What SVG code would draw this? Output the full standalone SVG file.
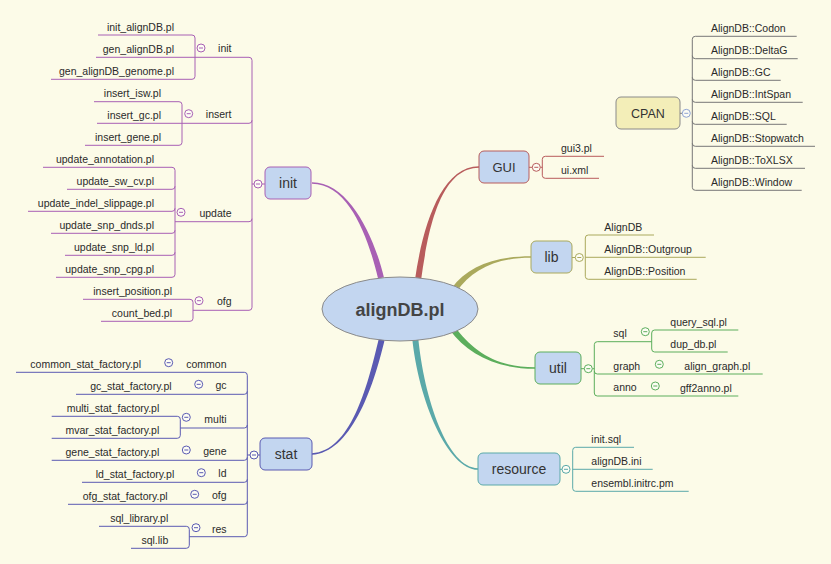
<svg xmlns="http://www.w3.org/2000/svg" width="831" height="564" viewBox="0 0 831 564">
<style>
.t{font-family:"Liberation Sans",Arial,sans-serif;font-size:10.5px;fill:#2a2a2a}
.e{text-anchor:end}
.nl{font-family:"Liberation Sans",Arial,sans-serif;font-size:14px;fill:#333;text-anchor:middle}
.ln{fill:none;stroke-width:1}
.pu{stroke:#a860b4}.rd{stroke:#b85c5c}.ol{stroke:#aaa95c}.gr{stroke:#5cae5c}.te{stroke:#5aa9a9}.in{stroke:#5a5ab2}.gy{stroke:#777}
.box{fill:#c3d6f0;stroke-width:1}
.b{fill:#fdfdf4;stroke-width:1}
</style>
<defs>
<g id="btn"><circle class="b" r="4"/><path d="M-2,0H2"/></g>
</defs>
<rect width="831" height="564" fill="#fcfbe8"/>
<g id="connectors">
<path fill="#a860b4" d="M312,183.75 C350,183.75 369.1,240.7 378.1,278.7 L383.9,277.3 C374.9,239.3 350,182.25 312,182.25 Z"/>
<path fill="#b85c5c" d="M479,166.25 C440,166.25 422,229.6 415,279.6 L421,280.4 C428,230.4 440,167.75 479,167.75 Z"/>
<path fill="#aaa95c" d="M531,256.25 C495,256.25 467.6,266.2 451.6,288.2 L456.4,291.8 C472.4,269.8 495,257.75 531,257.75 Z"/>
<path fill="#5cae5c" d="M535,367.25 C495,367.25 472.4,350.2 454.4,326.2 L449.6,329.8 C467.6,353.8 495,368.75 535,368.75 Z"/>
<path fill="#5aa9a9" d="M478,468.25 C448,468.25 424,399.85 418,335.85 L412,336.15 C418,400.15 448,469.75 478,469.75 Z"/>
<path fill="#5a5ab2" d="M312,454.75 C350,452.75 372.9,390.7 384.9,338.7 L379.1,337.3 C367.1,389.3 350,451.25 312,453.25 Z"/>
<g class="ln pu">
<path d="M96,57.3 H249 Q252,57.3 252,60.3 V307.3 Q252,310.3 249,310.3 H193"/>
<path d="M97,123.3 H249 Q252,123.3 252,120.3"/>
<path d="M175,221.7 H249 Q252,221.7 252,218.7"/>
<path d="M98,35 H192 Q195,35 195,38 V76.3 Q195,79.3 192,79.3 H51"/>
<path d="M94,101.7 H179 Q182,101.7 182,104.7 V142.3 Q182,145.3 179,145.3 H85"/>
<path d="M43,167.3 H172 Q175,167.3 175,170.3 V274.3 Q175,277.3 172,277.3 H56"/>
<path d="M67,189.3 H172 Q175,189.3 175,186.3 M28,211.3 H172 Q175,211.3 175,208.3 M51,233.3 H172 Q175,233.3 175,230.3 M65,255.3 H172 Q175,255.3 175,252.3"/>
<path d="M83,299.3 H190 Q193,299.3 193,302.3 V318.3 Q193,321.3 190,321.3 H101"/>
<path d="M252,184 H254 M262,184 H265"/>
</g>
<g class="ln in">
<path d="M16,372.3 H244.3 Q247.3,372.3 247.3,375.3 V533.7 Q247.3,536.7 244.3,536.7 H189.3"/>
<path d="M76,394.3 H244.3 Q247.3,394.3 247.3,391.3 M180.3,428 H244.3 Q247.3,428 247.3,425 M51.7,460.3 H244.3 Q247.3,460.3 247.3,457.3 M82,482.3 H244.3 Q247.3,482.3 247.3,479.3 M68,504.3 H244.3 Q247.3,504.3 247.3,501.3"/>
<path d="M51.7,416.3 H177.3 Q180.3,416.3 180.3,419.3 V435.3 Q180.3,438.3 177.3,438.3 H51.7"/>
<path d="M99,526.3 H186.3 Q189.3,526.3 189.3,529.3 V545.3 Q189.3,548.3 186.3,548.3 H131"/>
<path d="M247.3,455 H250 M258,455 H260"/>
</g>
<g class="ln rd">
<path d="M604,156.3 H545.3 Q542.3,156.3 542.3,159.3 V175.3 Q542.3,178.3 545.3,178.3 H599"/>
<path d="M529,167.3 H532.3 M540.3,167.3 H542.3"/>
</g>
<g class="ln ol">
<path d="M654,235 H588.3 Q585.3,235 585.3,238 V276.3 Q585.3,279.3 588.3,279.3 H696.7"/>
<path d="M585.3,257.3 H705.7 M572,257.5 H575.3"/>
</g>
<g class="ln gr">
<path d="M651.7,341.7 H597.3 Q594.3,341.7 594.3,344.7 V393 Q594.3,396 597.3,396 H738.3"/>
<path d="M594.3,371 Q594.3,374 597.3,374 H762.7"/>
<path d="M738.3,330 H654.7 Q651.7,330 651.7,333 V349 Q651.7,352 654.7,352 H727.7"/>
<path d="M581,368.7 H584.3 M592.3,368.7 H594.3"/>
</g>
<g class="ln te">
<path d="M634,447.3 H575.7 Q572.7,447.3 572.7,450.3 V488.3 Q572.7,491.3 575.7,491.3 H688.7"/>
<path d="M572.7,469.3 H652.7 M560,469.3 H562"/>
</g>
<g class="ln gy">
<path d="M796.7,36.3 H695.3 Q692.3,36.3 692.3,39.3 V187.3 Q692.3,190.3 695.3,190.3 H801.7"/>
<path d="M692.3,55.7 Q692.3,58.7 695.3,58.7 H797.7 M692.3,77.3 Q692.3,80.3 695.3,80.3 H780.7 M692.3,99.3 Q692.3,102.3 695.3,102.3 H802.7 M692.3,121.3 Q692.3,124.3 695.3,124.3 H786.7 M692.3,143.3 Q692.3,146.3 695.3,146.3 H815 M692.3,165.3 Q692.3,168.3 695.3,168.3 H805"/>
<path d="M680,113.3 H682.3"/>
</g>
</g>
<g id="node-center">
<ellipse cx="400" cy="309" rx="78" ry="32" fill="#c3d6f0" stroke="#8a8a8a" stroke-width="1"/>
<text x="400" y="316" text-anchor="middle" font-family="Liberation Sans,Arial,sans-serif" font-weight="bold" font-size="18" fill="#444">alignDB.pl</text>
</g>
<g id="node-init"><rect class="box pu" x="265" y="167" width="46" height="32" rx="5"/><text class="nl" x="288" y="188">init</text><use href="#btn" x="258" y="184" class="pu"/></g>
<g id="node-gui"><rect class="box rd" x="479" y="151" width="50" height="32" rx="5"/><text class="nl" x="504" y="172" style="font-size:13px">GUI</text><use href="#btn" x="536.3" y="167.3" class="rd"/></g>
<g id="node-lib"><rect class="box ol" x="531" y="241" width="41" height="32" rx="5"/><text class="nl" x="551.5" y="262">lib</text><use href="#btn" x="579.3" y="257.5" class="ol"/></g>
<g id="node-util"><rect class="box gr" x="535" y="352" width="46" height="32" rx="5"/><text class="nl" x="558" y="373">util</text><use href="#btn" x="588.3" y="368.7" class="gr"/></g>
<g id="node-resource"><rect class="box te" x="478" y="453" width="82" height="32" rx="5"/><text class="nl" x="519" y="474">resource</text><use href="#btn" x="566" y="469.3" class="te"/></g>
<g id="node-stat"><rect class="box in" x="260" y="438" width="52" height="32" rx="5"/><text class="nl" x="286" y="459">stat</text><use href="#btn" x="254" y="455" class="in"/></g>
<g id="node-cpan"><rect x="616" y="97" width="64" height="32" rx="5" fill="#f3eeb8" stroke="#8a8a8a" stroke-width="1"/><text class="nl" x="648" y="118" style="font-size:12.5px">CPAN</text><use href="#btn" x="686.3" y="113.3" style="stroke:#8fa3d3"/></g>

<g id="init-init"><text class="t e" x="231.5" y="52.3">init</text><use href="#btn" x="201" y="48" class="pu"/></g>
<g id="init-insert"><text class="t e" x="231.5" y="118">insert</text><use href="#btn" x="188.7" y="113.7" class="pu"/></g>
<g id="init-update"><text class="t e" x="231.5" y="217.3">update</text><use href="#btn" x="181" y="212.3" class="pu"/></g>
<g id="init-ofg"><text class="t e" x="231.5" y="305">ofg</text><use href="#btn" x="199" y="300.7" class="pu"/></g>
<g id="l-init_alignDB"><text class="t e" x="174" y="30.5">init_alignDB.pl</text></g>
<g id="l-gen_alignDB"><text class="t e" x="174" y="52.8">gen_alignDB.pl</text></g>
<g id="l-gen_alignDB_genome"><text class="t e" x="174" y="74.8">gen_alignDB_genome.pl</text></g>
<g id="l-insert_isw"><text class="t e" x="161" y="97.2">insert_isw.pl</text></g>
<g id="l-insert_gc"><text class="t e" x="161" y="118.8">insert_gc.pl</text></g>
<g id="l-insert_gene"><text class="t e" x="161" y="140.8">insert_gene.pl</text></g>
<g id="l-update_annotation"><text class="t e" x="154" y="162.8">update_annotation.pl</text></g>
<g id="l-update_sw_cv"><text class="t e" x="154" y="184.8">update_sw_cv.pl</text></g>
<g id="l-update_indel_slippage"><text class="t e" x="154" y="206.8">update_indel_slippage.pl</text></g>
<g id="l-update_snp_dnds"><text class="t e" x="154" y="228.8">update_snp_dnds.pl</text></g>
<g id="l-update_snp_ld"><text class="t e" x="154" y="250.8">update_snp_ld.pl</text></g>
<g id="l-update_snp_cpg"><text class="t e" x="154" y="272.8">update_snp_cpg.pl</text></g>
<g id="l-insert_position"><text class="t e" x="172" y="294.8">insert_position.pl</text></g>
<g id="l-count_bed"><text class="t e" x="172" y="316.8">count_bed.pl</text></g>

<g id="stat-common"><text class="t e" x="226.5" y="367.5">common</text><use href="#btn" x="168.7" y="362.7" class="in"/></g>
<g id="stat-gc"><text class="t e" x="226.5" y="389">gc</text><use href="#btn" x="198.7" y="384.3" class="in"/></g>
<g id="stat-multi"><text class="t e" x="226.5" y="422.5">multi</text><use href="#btn" x="186.3" y="417.3" class="in"/></g>
<g id="stat-gene"><text class="t e" x="226.5" y="455.3">gene</text><use href="#btn" x="186.3" y="450" class="in"/></g>
<g id="stat-ld"><text class="t e" x="226.5" y="477.3">ld</text><use href="#btn" x="201.3" y="472.7" class="in"/></g>
<g id="stat-ofg"><text class="t e" x="226.5" y="499.3">ofg</text><use href="#btn" x="194.7" y="494.3" class="in"/></g>
<g id="stat-res"><text class="t e" x="226.5" y="532.5">res</text><use href="#btn" x="196" y="527.7" class="in"/></g>
<g id="l-common_stat_factory"><text class="t e" x="141" y="367.8">common_stat_factory.pl</text></g>
<g id="l-gc_stat_factory"><text class="t e" x="171.7" y="389.8">gc_stat_factory.pl</text></g>
<g id="l-multi_stat_factory"><text class="t e" x="159.3" y="411.8">multi_stat_factory.pl</text></g>
<g id="l-mvar_stat_factory"><text class="t e" x="159.3" y="433.8">mvar_stat_factory.pl</text></g>
<g id="l-gene_stat_factory"><text class="t e" x="159.3" y="455.8">gene_stat_factory.pl</text></g>
<g id="l-ld_stat_factory"><text class="t e" x="174.3" y="477.8">ld_stat_factory.pl</text></g>
<g id="l-ofg_stat_factory"><text class="t e" x="167.7" y="499.8">ofg_stat_factory.pl</text></g>
<g id="l-sql_library"><text class="t e" x="168.3" y="521.8">sql_library.pl</text></g>
<g id="l-sql_lib"><text class="t e" x="168.3" y="543.8">sql.lib</text></g>

<g id="l-gui3"><text class="t" x="561" y="151.8">gui3.pl</text></g>
<g id="l-ui_xml"><text class="t" x="561" y="173.8">ui.xml</text></g>
<g id="l-AlignDB"><text class="t" x="604.3" y="230.5">AlignDB</text></g>
<g id="l-Outgroup"><text class="t" x="604.3" y="252.8">AlignDB::Outgroup</text></g>
<g id="l-Position"><text class="t" x="604.3" y="274.8">AlignDB::Position</text></g>
<g id="util-sql"><text class="t" x="613.3" y="337">sql</text><use href="#btn" x="645.3" y="331.7" class="gr"/></g>
<g id="util-graph"><text class="t" x="613.3" y="369.5">graph</text><use href="#btn" x="659.3" y="364.3" class="gr"/></g>
<g id="util-anno"><text class="t" x="613.3" y="391.3">anno</text><use href="#btn" x="655.3" y="386" class="gr"/></g>
<g id="l-query_sql"><text class="t" x="670.3" y="325.5">query_sql.pl</text></g>
<g id="l-dup_db"><text class="t" x="670.3" y="347.5">dup_db.pl</text></g>
<g id="l-align_graph"><text class="t" x="684.3" y="369.5">align_graph.pl</text></g>
<g id="l-gff2anno"><text class="t" x="680" y="391.5">gff2anno.pl</text></g>
<g id="l-init_sql"><text class="t" x="591.3" y="442.8">init.sql</text></g>
<g id="l-alignDB_ini"><text class="t" x="591.3" y="464.8">alignDB.ini</text></g>
<g id="l-ensembl"><text class="t" x="591.3" y="486.8">ensembl.initrc.pm</text></g>
<g id="l-Codon"><text class="t" x="711" y="31.8">AlignDB::Codon</text></g>
<g id="l-DeltaG"><text class="t" x="711" y="54.2">AlignDB::DeltaG</text></g>
<g id="l-GC"><text class="t" x="711" y="75.8">AlignDB::GC</text></g>
<g id="l-IntSpan"><text class="t" x="711" y="97.8">AlignDB::IntSpan</text></g>
<g id="l-SQL"><text class="t" x="711" y="119.8">AlignDB::SQL</text></g>
<g id="l-Stopwatch"><text class="t" x="711" y="141.8">AlignDB::Stopwatch</text></g>
<g id="l-ToXLSX"><text class="t" x="711" y="163.8">AlignDB::ToXLSX</text></g>
<g id="l-Window"><text class="t" x="711" y="185.8">AlignDB::Window</text></g>
</svg>
